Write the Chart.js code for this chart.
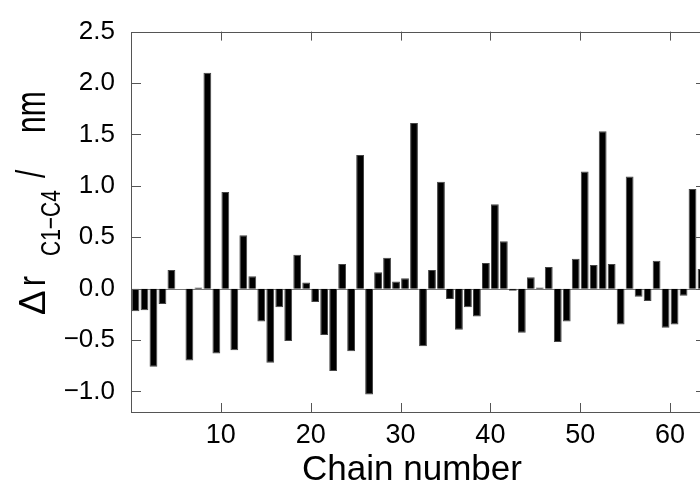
<!DOCTYPE html>
<html>
<head>
<meta charset="utf-8">
<script src="https://cdn.jsdelivr.net/npm/chart.js@4.4.1/dist/chart.umd.min.js"></script>
<style>
  html, body { margin: 0; padding: 0; background: #fff; overflow: hidden; }
  #wrap { position: absolute; left: 0; top: 0; width: 720px; height: 485px; }
</style>
</head>
<body>
<div id="wrap"><canvas id="deltaChart" width="720" height="485" style="width:720px;height:485px"></canvas></div>
<script>
// chain numbers 1..64 and the change of C1-C4 distance (nm)
const chains = [
  1, 2, 3, 4, 5, 6, 7, 8, 9, 10, 11, 12, 13, 14, 15, 16,
  17, 18, 19, 20, 21, 22, 23, 24, 25, 26, 27, 28, 29, 30, 31, 32,
  33, 34, 35, 36, 37, 38, 39, 40, 41, 42, 43, 44, 45, 46, 47, 48,
  49, 50, 51, 52, 53, 54, 55, 56, 57, 58, 59, 60, 61, 62, 63, 64
];
const deltaR = [
  -0.22, -0.21, -0.76, -0.15, 0.18, 0.0, -0.70, 0.01, 2.10, -0.63, 0.94, -0.60, 0.52, 0.12, -0.32, -0.72,
  -0.18, -0.51, 0.33, 0.06, -0.13, -0.45, -0.80, 0.24, -0.61, 1.30, -1.03, 0.16, 0.30, 0.07, 0.10, 1.61,
  -0.56, 0.18, 1.04, -0.10, -0.40, -0.18, -0.27, 0.25, 0.82, 0.46, -0.02, -0.43, 0.11, 0.01, 0.21, -0.52,
  -0.32, 0.29, 1.14, 0.23, 1.53, 0.24, -0.35, 1.09, -0.08, -0.12, 0.27, -0.38, -0.35, -0.07, 0.97, 0.19
];
const xTicks = [10, 20, 30, 40, 50, 60];
const yTicks = [-1.0, -0.5, 0.0, 0.5, 1.0, 1.5, 2.0, 2.5];

const FONT = '"Liberation Sans", Arial, sans-serif';

// frame, inward tick marks, zero line and the axis titles
const framePlugin = {
    id: 'frame',
    beforeDatasetsDraw(chart) {
        const { ctx, chartArea: a, scales } = chart;
        const y0 = Math.round(scales.y.getPixelForValue(0)) + 0.5;
        ctx.save();
        ctx.strokeStyle = '#777';
        ctx.lineWidth = 1;
        ctx.beginPath();
        ctx.moveTo(a.left, y0);
        ctx.lineTo(a.right, y0);
        ctx.stroke();
        ctx.restore();
    },
    afterDraw(chart) {
        const { ctx, chartArea: a, scales } = chart;
        ctx.save();
        ctx.strokeStyle = '#555';
        ctx.lineWidth = 1;
        ctx.strokeRect(Math.round(a.left) + 0.5, Math.round(a.top) + 0.5,
            Math.round(a.right - a.left), Math.round(a.bottom - a.top));

        ctx.beginPath();
        yTicks.forEach(v => {
            const py = Math.round(scales.y.getPixelForValue(v)) + 0.5;
            ctx.moveTo(a.left, py); ctx.lineTo(a.left + 10, py);
            ctx.moveTo(a.right, py); ctx.lineTo(a.right - 10, py);
        });
        xTicks.forEach(v => {
            const px = Math.round(scales.x.getPixelForValue(v)) + 0.5;
            ctx.moveTo(px, a.bottom); ctx.lineTo(px, a.bottom - 9);
            ctx.moveTo(px, a.top); ctx.lineTo(px, a.top + 9);
        });
        ctx.stroke();

        // x title
        ctx.fillStyle = '#000';
        ctx.font = '35px ' + FONT;
        ctx.textAlign = 'center';
        ctx.textBaseline = 'alphabetic';
        ctx.fillText('Chain number', 412, 480);

        // y title: Δ r_(C1−C4) / nm, rotated
        ctx.textAlign = 'left';
        const piece = (text, x, y, size, sy) => {
            ctx.save();
            ctx.translate(x, y);
            ctx.rotate(-Math.PI / 2);
            ctx.scale(1, sy);
            ctx.font = size + 'px ' + FONT;
            ctx.fillText(text, 0, 0);
            ctx.restore();
        };
        piece('Δ', 45, 315, 37, 1);
        piece('r', 45, 286, 30, 1.3);
        piece('C1−C4', 60, 256, 21, 1.35);
        piece('/', 45, 178, 30, 1.35);
        piece('nm', 45, 133, 30, 1.4);
        ctx.restore();
    }
};

const ctx = document.getElementById('deltaChart').getContext('2d');
new Chart(ctx, {
    type: 'bar',
    data: {
        datasets: [{
            label: 'Δr C1−C4',
            // each bar covers the interval [n-1, n]
            data: chains.map((n, i) => ({ x: n - 0.5, y: deltaR[i] })),
            backgroundColor: '#000',
            borderColor: '#444',
            borderWidth: 1,
            barPercentage: 0.87,
            categoryPercentage: 1.0
        }]
    },
    options: {
        responsive: false,
        animation: false,
        devicePixelRatio: 1,
        layout: { padding: { top: 31, right: 14, left: 0, bottom: 0 } },
        plugins: {
            legend: { display: false },
            tooltip: { enabled: false }
        },
        scales: {
            x: {
                type: 'linear',
                offset: false,
                min: 0,
                max: 64,
                afterBuildTicks: s => { s.ticks = xTicks.map(v => ({ value: v })); },
                afterFit: s => { s.height = 73; },
                grid: { display: false, drawTicks: false, offset: false },
                border: { display: false },
                ticks: {
                    autoSkip: false,
                    maxRotation: 0,
                    padding: 7,
                    color: '#000',
                    font: { family: FONT, size: 27 }
                }
            },
            y: {
                min: -1.2,
                max: 2.5,
                afterBuildTicks: s => { s.ticks = yTicks.map(v => ({ value: v })); },
                afterFit: s => { s.width = 131; },
                grid: { display: false, drawTicks: false },
                border: { display: false },
                ticks: {
                    padding: 16,
                    color: '#000',
                    font: { family: FONT, size: 26 },
                    callback: v => (v < 0 ? '−' : '') + Math.abs(v).toFixed(1)
                }
            }
        }
    },
    plugins: [framePlugin]
});
</script>
</body>
</html>
